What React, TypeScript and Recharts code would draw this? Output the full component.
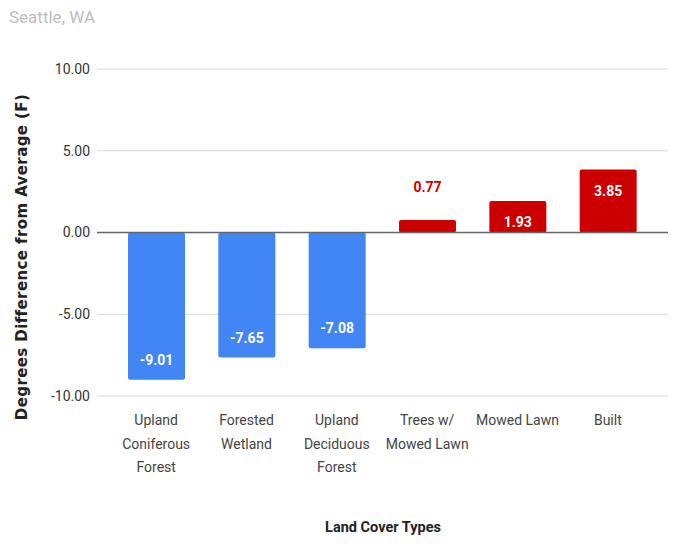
import { BarChart, Bar, XAxis, YAxis, CartesianGrid, ReferenceLine, Cell, LabelList } from "recharts";

const categories = [
  "Upland\nConiferous\nForest",
  "Forested\nWetland",
  "Upland\nDeciduous\nForest",
  "Trees w/\nMowed Lawn",
  "Mowed Lawn",
  "Built",
];
const values = [-9.01, -7.65, -7.08, 0.77, 1.93, 3.85];
const yTicks = [-10, -5, 0, 5, 10];

const BLUE = "#4285f4";
const RED = "#cc0000";

const data = categories.map((name, i) => ({ name, value: values[i] }));

const CategoryTick = (props: any) => {
  const { x, y, payload } = props;
  const lines = String(payload.value).split("\n");
  return (
    <text x={x} y={y} textAnchor="middle" fill="#444" fontSize={14} fontFamily="Roboto">
      {lines.map((l, i) => (
        <tspan key={i} x={x} dy={i === 0 ? 21 : 23.5}>
          {l}
        </tspan>
      ))}
    </text>
  );
};

const ValueLabel = (props: any) => {
  const { x, y, width, height, value } = props;
  const top = Math.min(y, y + height);
  const bottom = Math.max(y, y + height);
  const cx = x + width / 2;
  let ty: number;
  let fill = "#fff";
  if (value < 0) {
    ty = bottom - 20;
  } else if (bottom - top < 30) {
    ty = top - 33;
    fill = RED;
  } else {
    ty = top + 21;
  }
  return (
    <text x={cx} y={ty} dy={5} textAnchor="middle" fill={fill} fontSize={14} fontWeight="bold" fontFamily="Roboto">
      {value.toFixed(2)}
    </text>
  );
};

export default function App() {
  return (
    <div style={{ position: "absolute", left: 0, top: 0, width: 692, height: 547, background: "#fff" }}>
      <div style={{ position: "absolute", left: 9, top: 7, fontFamily: "Roboto", fontSize: 17, color: "#bdbdbd" }}>
        Seattle, WA
      </div>
      <div
        style={{
          position: "absolute",
          left: 22,
          top: 257,
          transform: "translate(-50%, -50%) rotate(-90deg)",
          whiteSpace: "nowrap",
          fontFamily: "DejaVu Sans",
          fontWeight: "bold",
          fontSize: 15,
          letterSpacing: 0.4,
          color: "#222",
        }}
      >
        Degrees Difference from Average (F)
      </div>
      <div
        style={{
          position: "absolute",
          left: 383,
          top: 527,
          transform: "translate(-50%, -50%)",
          whiteSpace: "nowrap",
          fontFamily: "Roboto",
          fontWeight: "bold",
          fontSize: 14.5,
          color: "#222",
        }}
      >
        Land Cover Types
      </div>
      <BarChart
        width={692}
        height={547}
        data={data}
        margin={{ top: 69, right: 24, bottom: 0, left: 0 }}
        style={{ position: "absolute", left: 0, top: 0 }}
      >
        <CartesianGrid vertical={false} stroke="#d9d9d9" />
        <XAxis
          dataKey="name"
          axisLine={false}
          tickLine={false}
          height={151}
          interval={0}
          padding={{ left: 14, right: 15 }}
          tick={<CategoryTick />}
        />
        <YAxis
          domain={[-10, 10]}
          ticks={yTicks}
          width={97}
          axisLine={false}
          tickLine={false}
          tickMargin={1}
          tickFormatter={(v: number) => v.toFixed(2)}
          tick={{ fill: "#333", fontSize: 14, fontFamily: "Roboto" }}
        />
        <ReferenceLine y={0} stroke="#666" strokeWidth={1.5} />
        <Bar dataKey="value" barSize={57} radius={2} isAnimationActive={false}>
          {data.map((d, i) => (
            <Cell key={i} fill={d.value < 0 ? BLUE : RED} />
          ))}
          <LabelList dataKey="value" content={<ValueLabel />} />
        </Bar>
      </BarChart>
    </div>
  );
}
